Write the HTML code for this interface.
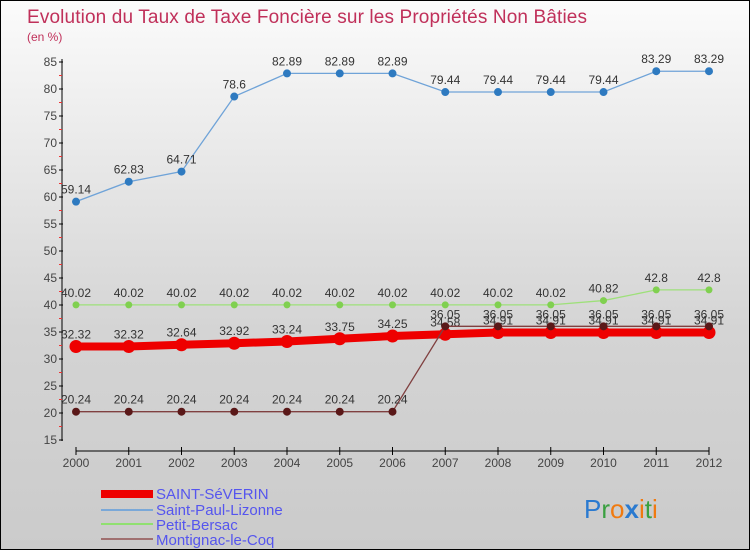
<!DOCTYPE html>
<html><head><meta charset="utf-8"><style>
body{margin:0}
#c{width:750px;height:550px;position:relative;box-sizing:border-box;border:1px solid #000;background:linear-gradient(#fbfbfb,#d4d4d4 60%,#cbcbcb);font-family:"Liberation Sans",sans-serif;overflow:hidden}
svg text{font-family:"Liberation Sans",sans-serif}
</style></head><body>
<div id="c">
<svg id="s" width="750" height="550" xmlns="http://www.w3.org/2000/svg">
<text x="26" y="22" font-size="19" fill="#c0305a" textLength="560">Evolution du Taux de Taxe Foncière sur les Propriétés Non Bâties</text>
<text x="26" y="40" font-size="12" fill="#c0305a">(en %)</text>
<g id="axes"></g><g id="series"></g>
<g font-size="15" fill="#5555ee">
<rect x="100" y="489" width="52" height="8" fill="#e00"/>
<text x="155" y="498">SAINT-SéVERIN</text>
<rect x="100" y="508" width="52" height="2" fill="#7aa8d8"/>
<text x="155" y="514">Saint-Paul-Lizonne</text>
<rect x="100" y="522" width="52" height="2" fill="#90e070"/>
<text x="155" y="529">Petit-Bersac</text>
<rect x="100" y="537" width="52" height="2" fill="#a07070"/>
<text x="155" y="544">Montignac-le-Coq</text>
</g>
<g font-size="26">
<text x="583" y="517"><tspan fill="#2a7ad0">P</tspan><tspan fill="#3aa040">r</tspan><tspan fill="#f07a10">o</tspan><tspan fill="#2a7ad0" font-weight="bold">x</tspan><tspan fill="#f07a10">i</tspan><tspan fill="#3aa040">t</tspan><tspan fill="#f07a10">i</tspan></text>
</g>
</svg></div>
<script>
const years=["2000","2001","2002","2003","2004","2005","2006","2007","2008","2009","2010","2011","2012"];
const yTicks=[15,20,25,30,35,40,45,50,55,60,65,70,75,80,85];
const saintSeverin=[32.32,32.32,32.64,32.92,33.24,33.75,34.25,34.58,34.91,34.91,34.91,34.91,34.91];
const saintPaul=[59.14,62.83,64.71,78.6,82.89,82.89,82.89,79.44,79.44,79.44,79.44,83.29,83.29];
const petitBersac=[40.02,40.02,40.02,40.02,40.02,40.02,40.02,40.02,40.02,40.02,40.82,42.8,42.8];
const montignac=[20.24,20.24,20.24,20.24,20.24,20.24,20.24,36.05,36.05,36.05,36.05,36.05,36.05];
const NS="http://www.w3.org/2000/svg";
const X=i=>75+i*52.75, Y=v=>439-(v-15)*5.4;
function mk(t,a,p){const e=document.createElementNS(NS,t);for(const k in a)e.setAttribute(k,a[k]);p.appendChild(e);return e;}
const ax=document.getElementById('axes');
const ya=mk('line',{x1:61,y1:58,x2:61,y2:440,stroke:'#000'},ax);


yTicks.forEach(v=>{mk('line',{x1:58,x2:62,y1:Y(v),y2:Y(v),stroke:'#000'},ax);
 if(v<85)mk('line',{x1:58,x2:61,y1:Y(v)-13.5,y2:Y(v)-13.5,stroke:'#e33'},ax);
 const t=mk('text',{x:56,y:Y(v)+4,'font-size':12,'text-anchor':'end',fill:'#444'},ax);t.textContent=v;
 
 });
const xa=mk('line',{x1:75,y1:450,x2:708,y2:450,stroke:'#000'},ax);


years.forEach((y,i)=>{mk('line',{x1:X(i),x2:X(i),y1:446,y2:454,stroke:'#000'},ax);
 const t=mk('text',{x:X(i),y:466,'font-size':12,'text-anchor':'middle',fill:'#444'},ax);t.textContent=y;
 
 });
const sg=document.getElementById('series');
function draw(name,data,col,w,r,dot){const g=mk('g',{},sg);
 
 
 mk('polyline',{points:data.map((v,i)=>X(i)+','+Y(v)).join(' '),fill:'none',stroke:col,'stroke-width':w},g);
 data.forEach((v,i)=>{const c=mk('circle',{cx:X(i),cy:Y(v),r:r,fill:dot},g);
  
  
  const t=mk('text',{x:X(i),y:Y(v)-8,'font-size':12,'text-anchor':'middle',fill:'#333'},g);t.textContent=String(v);
  
  });}
draw('saint-paul',saintPaul,'#6fa3d8',1.3,4,'#2e7ac0');
draw('petit-bersac',petitBersac,'#9ee07a',1.3,3.5,'#80d050');
draw('saint-severin',saintSeverin,'#ee0000',8,6.5,'#ee0000');
draw('montignac',montignac,'#804040',1.3,4,'#5a1818');
</script></body></html>
